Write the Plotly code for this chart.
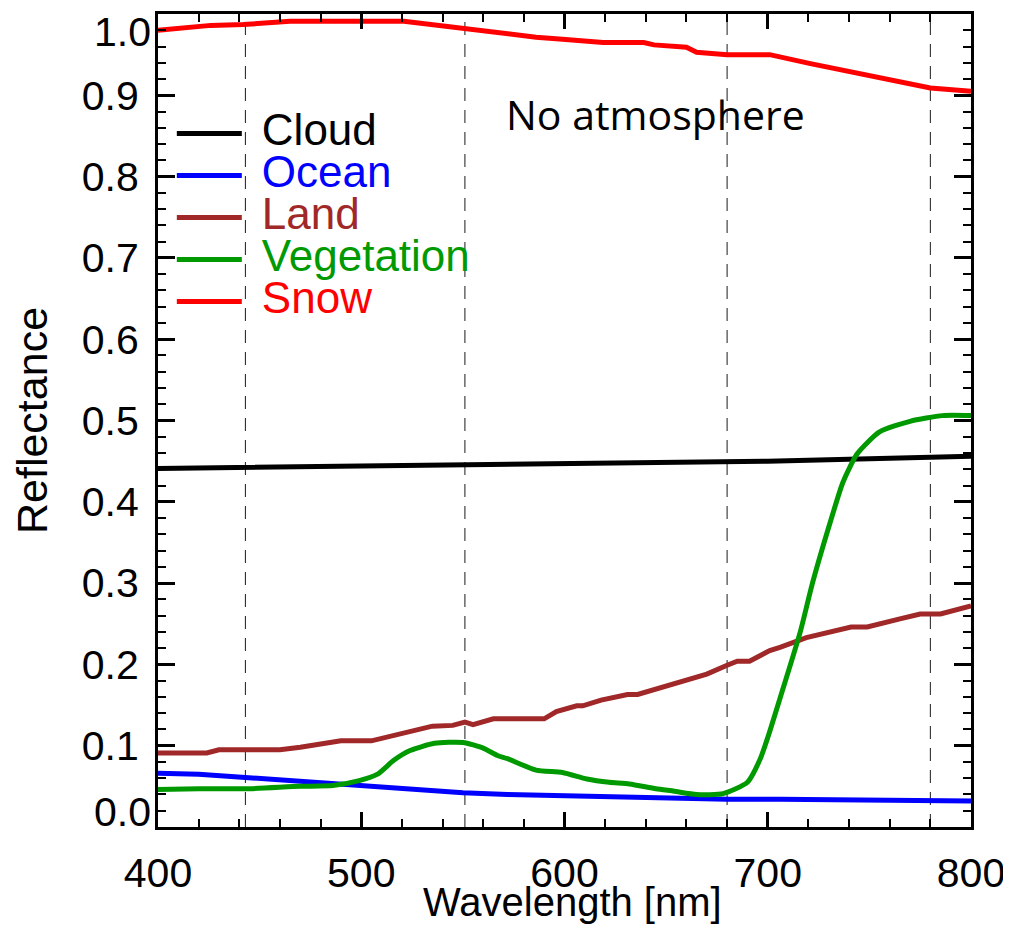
import plotly.graph_objects as go

# ---------------- data ----------------
cloud_wl = [400, 500, 600, 700, 800]
cloud_r = [0.441, 0.444, 0.447, 0.450, 0.456]

ocean_wl = [400, 420, 443, 460, 486, 502, 526, 550, 572, 588, 613, 640, 654, 680, 706, 767, 791, 800]
ocean_r = [0.066, 0.065, 0.061, 0.058, 0.054, 0.051, 0.046, 0.042, 0.040, 0.039, 0.037, 0.0355,
           0.035, 0.034, 0.034, 0.0334, 0.0334, 0.032]

land_wl = [400, 424, 430, 460, 470, 480, 490, 505, 515, 527, 535, 545, 551, 555, 565, 590, 596,
           606, 609, 618, 631, 636, 647, 657, 670, 680, 685, 691, 701, 706, 719, 741, 749, 765,
           775, 785, 800]
land_r = [0.091, 0.091, 0.095, 0.095, 0.098, 0.102, 0.106, 0.106, 0.112, 0.120, 0.124, 0.125,
          0.129, 0.126, 0.133, 0.133, 0.142, 0.149, 0.149, 0.156, 0.163, 0.163, 0.171, 0.178,
          0.188, 0.199, 0.204, 0.204, 0.217, 0.221, 0.233, 0.246, 0.246, 0.256, 0.262, 0.262,
          0.272]

veg_wl = [400, 420, 443, 470, 486, 499, 508, 516, 524, 536, 550, 560, 567, 572, 586, 599, 611,
          622, 632, 645, 654, 665, 678, 690, 696, 700, 706, 716, 722, 731, 737, 744, 755, 770,
          786, 800]
veg_r = [0.046, 0.047, 0.047, 0.050, 0.051, 0.057, 0.065, 0.082, 0.094, 0.103, 0.104, 0.097,
         0.088, 0.084, 0.070, 0.067, 0.059, 0.055, 0.053, 0.047, 0.044, 0.040, 0.041, 0.055,
         0.082, 0.110, 0.158, 0.240, 0.300, 0.377, 0.424, 0.459, 0.486, 0.499, 0.506, 0.506]

snow_wl = [400, 426, 442, 465, 521, 544, 558, 565, 580, 586, 599, 608, 619, 639, 644, 660, 665,
           680, 701, 721, 741, 760, 780, 800]
snow_r = [0.980, 0.986, 0.987, 0.991, 0.991, 0.984, 0.980, 0.978, 0.974, 0.9715, 0.969, 0.967,
          0.965, 0.965, 0.962, 0.959, 0.953, 0.950, 0.950, 0.939, 0.929, 0.920, 0.909, 0.905]

band_wl = [443, 551, 680, 780]

series = [
    ("Cloud", cloud_wl, cloud_r, "#000000", "linear"),
    ("Ocean", ocean_wl, ocean_r, "#0000FF", "linear"),
    ("Land", land_wl, land_r, "#A02828", "linear"),
    ("Vegetation", veg_wl, veg_r, "#009A00", "spline"),
    ("Snow", snow_wl, snow_r, "#FF0000", "linear"),
]

y_ticks = [0.0, 0.1, 0.2, 0.3, 0.4, 0.5, 0.6, 0.7, 0.8, 0.9, 1.0]
y_end_labels = ["0.0", "1.0"]
x_ticks = [400, 500, 600, 700, 800]
x_title = "Wavelength [nm]"

FONT = "Liberation Sans, Arial, Helvetica, sans-serif"

fig = go.Figure()
spacer = '<span style="font-size:27px">&nbsp;&nbsp;</span>'
for name, wl, r, col, shape in series:
    fig.add_trace(go.Scatter(
        x=wl, y=r, mode="lines",
        line=dict(color=col, width=5, shape=shape, smoothing=0.6),
        name=f'{spacer}<span style="color:{col};font-size:44px">{name}</span>',
    ))

for b in band_wl:
    fig.add_vline(x=b, line=dict(color="#1a1a1a", width=1, dash="13px,9px"), layer="below")

fig.add_annotation(x=645, y=0.877, xref="x", yref="y", text="No atmosphere",
                   showarrow=False, font=dict(family="Open Sans, sans-serif", size=41, color="black"))

# end labels of the y axis (drawn just inside the axis range, like the original)
for lab in y_end_labels:
    v = float(lab)
    fig.add_annotation(x=0, xref="paper", xanchor="right", xshift=-6,
                       y=v, yref="y", yanchor="bottom" if v == 0.0 else "top",
                       yshift=-9 if v == 0.0 else 6, borderpad=0,
                       text=lab, showarrow=False, font=dict(size=41, color="black"))

# x-axis title sits tight under the tick labels, as in the original
fig.add_annotation(x=0.5, xref="paper", y=0, yref="paper", yanchor="top", xanchor="center",
                   xshift=8, yshift=-51, text=x_title, showarrow=False,
                   font=dict(size=40, color="black"))

axis_common = dict(showline=True, linecolor="black", linewidth=3, mirror="allticks",
                   showgrid=False, zeroline=False, ticks="inside", tickcolor="black",
                   tickwidth=2.5, automargin=False, tickmode="linear")

# the page body has an 8px margin, so the figure is sized / placed to compensate
fig.update_layout(
    width=1003, height=933,
    margin=dict(l=150, r=40, t=6, b=114),
    paper_bgcolor="white", plot_bgcolor="white",
    font=dict(family=FONT, size=41, color="black"),
    showlegend=True,
    legend=dict(x=0.017, y=0.885, xanchor="left", yanchor="top", bgcolor="rgba(0,0,0,0)",
                font=dict(size=30), itemwidth=65, tracegroupgap=0),
    xaxis=dict(range=[x_ticks[0], x_ticks[-1]], tick0=x_ticks[0], dtick=x_ticks[1] - x_ticks[0],
               ticklen=15,
               minor=dict(dtick=20, ticklen=8, tickwidth=2, ticks="inside", tickcolor="black"),
               ticklabelstandoff=8,
               **axis_common),
    yaxis=dict(range=[y_ticks[0], y_ticks[-1]], tick0=0, dtick=0.1, tickformat=".1f",
               labelalias={lab: " " for lab in y_end_labels},
               ticklen=17,
               minor=dict(dtick=0.02, ticklen=8, tickwidth=2, ticks="inside", tickcolor="black"),
               ticklabelstandoff=8,
               title=dict(text="Reflectance", font=dict(size=43), standoff=29),
               **axis_common),
)

fig.write_html("out.html")
